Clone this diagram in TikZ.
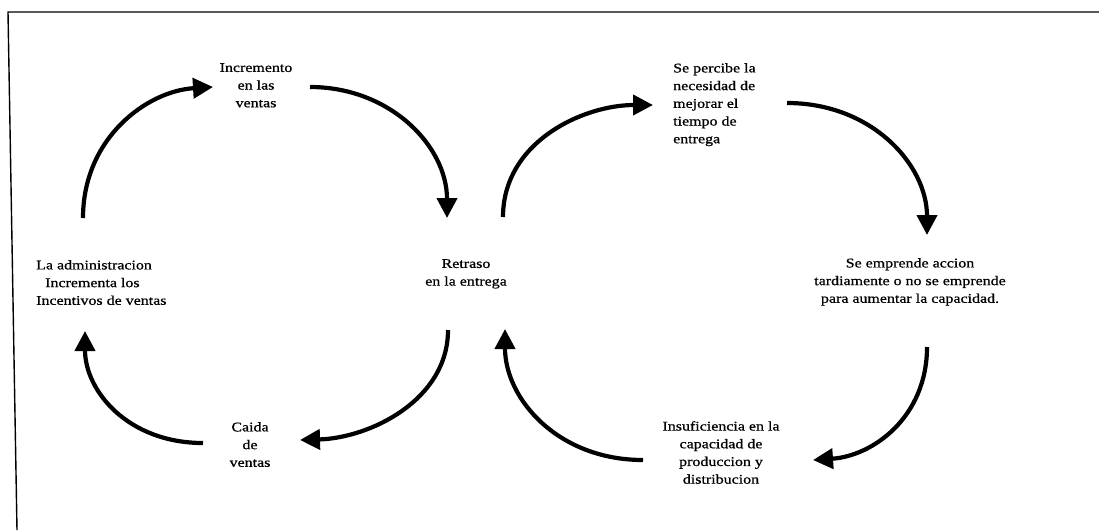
\documentclass[tikz,border=0pt]{standalone}
\usepackage{fontspec}
\setmainfont[FakeStretch=1.2,FakeBold=0.8]{Liberation Serif}
\usetikzlibrary{arrows.meta}
\begin{document}
\begin{tikzpicture}[x=1pt,y=-1pt,
  txt/.style={inner sep=0pt, anchor=north, font=\fontsize{13.3}{17.7}\selectfont},
  flow/.style={line width=4.2pt, -{Triangle[length=20pt,width=20pt]}},
  frame/.style={line width=1.4pt}]
\useasboundingbox (0,0) rectangle (1099,530);
\fill[white] (0,0) rectangle (1099,530);
% page frame (top and left edges)
\coordinate (fr1) at (1099,12);
\coordinate (fr2) at (8,12);
\coordinate (fr3) at (17,530);
\draw[frame] (fr1) -- (fr2) -- (fr3);

% statements of the two loops
\node[txt, align=center] (inc) at (256,63) {Incremento\\en las\\ventas};
\node[txt, align=center] (ret) at (466,259) {Retraso\\en la entrega};
\node[txt, align=left, anchor=north west] (perc) at (673,63) {Se percibe la\\necesidad de\\mejorar el\\tiempo de\\entrega};
\node[txt, align=center] (empr) at (910,258) {Se emprende accion\\tardiamente o no se emprende\\para aumentar la capacidad.};
\node[txt, align=center] (insu) at (721,421) {Insuficiencia en la\\capacidad de\\produccion y\\distribucion};
\node[txt, align=center] (caid) at (250,422) {Caida\\de\\ventas};
\node[txt, align=left, anchor=north west] (adm) at (36,260) {La administracion\\\hspace*{9pt}Incrementa los\\Incentivos de ventas};

% arrow end points
\coordinate (a1s) at (83,218);  \coordinate (a1e) at (213,87);
\coordinate (a2s) at (310,87);  \coordinate (a2e) at (447,218);
\coordinate (a3s) at (503,217); \coordinate (a3e) at (653,105);
\coordinate (a4s) at (787,103); \coordinate (a4e) at (927,235);
\coordinate (a5s) at (927,347); \coordinate (a5e) at (813,460);
\coordinate (a6s) at (643,460); \coordinate (a6e) at (505,329);
\coordinate (a7s) at (448,330); \coordinate (a7e) at (300,440);
\coordinate (a8s) at (203,443); \coordinate (a8e) at (85,331);

% left loop
\draw[flow] (a1s) .. controls +(0,-80) and +(-66,4) .. (a1e);
\draw[flow] (a2s) .. controls +(80,0) and +(0,-72) .. (a2e);
\draw[flow] (a7s) .. controls +(0,70) and +(70,-2) .. (a7e);
\draw[flow] (a8s) .. controls +(-75,0) and +(0,60) .. (a8e);
% right loop
\draw[flow] (a3s) .. controls +(0,-75) and +(-70,0) .. (a3e);
\draw[flow] (a4s) .. controls +(85,0) and +(0,-70) .. (a4e);
\draw[flow] (a5s) .. controls +(0,70) and +(60,-4) .. (a5e);
\draw[flow] (a6s) .. controls +(-85,0) and +(0,70) .. (a6e);
\end{tikzpicture}
\end{document}
